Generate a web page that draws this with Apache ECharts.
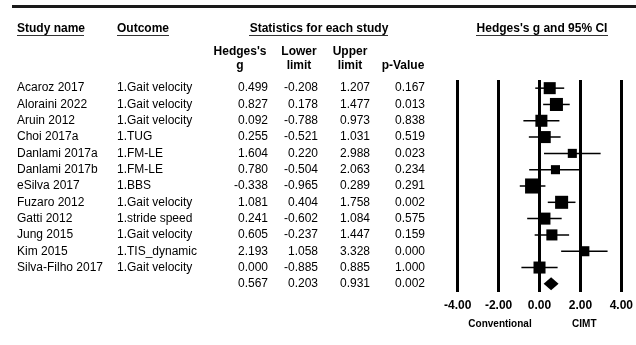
<!DOCTYPE html>
<html>
<head>
<meta charset="utf-8">
<script src="https://cdn.jsdelivr.net/npm/echarts@6/dist/echarts.min.js"></script>
<style>html,body{margin:0;padding:0;background:#fff;}#c{width:636px;height:345px;}</style>
</head>
<body>
<div id="c"></div>
<script>
const studies = ['Acaroz 2017','Aloraini 2022','Aruin 2012','Choi 2017a','Danlami 2017a','Danlami 2017b','eSilva 2017','Fuzaro 2012','Gatti 2012','Jung 2015','Kim 2015','Silva-Filho 2017'];
const outcomes = ['1.Gait velocity','1.Gait velocity','1.Gait velocity','1.TUG','1.FM-LE','1.FM-LE','1.BBS','1.Gait velocity','1.stride speed','1.Gait velocity','1.TIS_dynamic','1.Gait velocity'];
const hedgesG = [0.499,0.827,0.092,0.255,1.604,0.780,-0.338,1.081,0.241,0.605,2.193,0.000];
const lowerLimit = [-0.208,0.178,-0.788,-0.521,0.220,-0.504,-0.965,0.404,-0.602,-0.237,1.058,-0.885];
const upperLimit = [1.207,1.477,0.973,1.031,2.988,2.063,0.289,1.758,1.084,1.447,3.328,0.885];
const pValues = [0.167,0.013,0.838,0.519,0.023,0.234,0.291,0.002,0.575,0.159,0.000,1.000];
const weights = [8.6,10.1,8.6,8.6,4.9,4.9,13.5,10.1,8.6,7.3,6.0,8.6];
const summaryStats = [0.567,0.203,0.931,0.002]; // g, lower, upper, p
const xTicks = [-4,-2,0,2,4];
const directionLabels = ['Conventional','CIMT'];

const FONT = '"Liberation Sans", Arial, sans-serif';
const nRows = studies.length + 1;
const rowIdx = Array.from({length: nRows}, (_, i) => String(i));
const colStudy = studies.concat(['']);
const colOutcome = outcomes.concat(['']);
const colG = hedgesG.concat([summaryStats[0]]).map(v => v.toFixed(3));
const colLow = lowerLimit.concat([summaryStats[1]]).map(v => v.toFixed(3));
const colUp = upperLimit.concat([summaryStats[2]]).map(v => v.toFixed(3));
const colP = pValues.concat([summaryStats[3]]).map(v => v.toFixed(3));

const gridLeft = 457.7;
function colAxis(texts, x, align) {
  return {
    type: 'category', gridIndex: 0, position: 'left', inverse: true,
    data: rowIdx, offset: gridLeft - x,
    axisLine: {show: false}, axisTick: {show: false}, splitLine: {show: false},
    axisLabel: {
      interval: 0, margin: 0, align: align, color: '#000',
      fontFamily: FONT, fontSize: 12,
      formatter: (v, i) => texts[i]
    }
  };
}

const chart = echarts.init(document.getElementById('c'), null, {renderer: 'canvas'});

const hdr = (text, x, y, align, size) => ({
  type: 'text', left: undefined, x: x, y: y,
  style: {text: text, fill: '#000', font: 'bold ' + (size || 12) + 'px ' + FONT,
          textAlign: align, textVerticalAlign: 'middle'}
});
const uline = (x1, x2, y) => ({
  type: 'line', shape: {x1: x1, y1: y, x2: x2, y2: y},
  style: {stroke: '#333', lineWidth: 1}
});

chart.setOption({
  animation: false,
  grid: {left: gridLeft, top: 80, width: 168.3, height: 212, containLabel: false},
  xAxis: {
    type: 'value', min: -4, max: 4, interval: 2,
    axisLine: {show: false}, axisTick: {show: false},
    splitLine: {show: true, lineStyle: {color: '#000', width: 3}},
    axisLabel: {
      color: '#000', fontFamily: FONT, fontSize: 12, fontWeight: 'bold', margin: 8,
      customValues: xTicks,
      formatter: v => v.toFixed(2)
    }
  },
  yAxis: [
    {type: 'category', gridIndex: 0, position: 'left', inverse: true, data: rowIdx, show: false},
    colAxis(colStudy, 17, 'left'),
    colAxis(colOutcome, 117, 'left'),
    colAxis(colG, 268, 'right'),
    colAxis(colLow, 318, 'right'),
    colAxis(colUp, 370, 'right'),
    colAxis(colP, 425, 'right')
  ],
  series: [
    {
      type: 'custom', xAxisIndex: 0, yAxisIndex: 0,
      data: studies.map((s, i) => [lowerLimit[i], upperLimit[i], i]),
      renderItem: (params, api) => {
        const p1 = api.coord([api.value(0), api.value(2)]);
        const p2 = api.coord([api.value(1), api.value(2)]);
        return {type: 'line', shape: {x1: p1[0], y1: p1[1], x2: p2[0], y2: p2[1]},
                style: {stroke: '#000', lineWidth: 1.5}};
      },
      z: 3
    },
    {
      type: 'scatter', xAxisIndex: 0, yAxisIndex: 0,
      symbol: 'rect',
      data: studies.map((s, i) => [hedgesG[i], i, weights[i]]),
      symbolSize: v => Math.sqrt(v[2]) * 4.1,
      itemStyle: {color: '#000', opacity: 1},
      z: 4
    },
    {
      type: 'custom', xAxisIndex: 0, yAxisIndex: 0,
      data: [[summaryStats[1], summaryStats[0], summaryStats[2], studies.length]],
      renderItem: (params, api) => {
        const row = api.value(3);
        const l = api.coord([api.value(0), row]);
        const c = api.coord([api.value(1), row]);
        const r = api.coord([api.value(2), row]);
        const h = 6.5;
        return {type: 'polygon',
                shape: {points: [[l[0], l[1]], [c[0], c[1] - h], [r[0], r[1]], [c[0], c[1] + h]]},
                style: {fill: '#000'}};
      },
      z: 4
    }
  ],
  graphic: [
    {type: 'line', shape: {x1: 12, y1: 6.5, x2: 636, y2: 6.5}, style: {stroke: '#1a1a1a', lineWidth: 3}},
    hdr('Study name', 17, 29, 'left'),
    hdr('Outcome', 117, 29, 'left'),
    hdr('Statistics for each study', 319, 29, 'center'),
    hdr('Hedges\'s g and 95% CI', 542, 29, 'center'),
    uline(17, 84, 35.5), uline(117, 169, 35.5), uline(249, 388, 35.5), uline(476, 608, 35.5),
    hdr('Hedges\'s', 240, 52, 'center'), hdr('g', 240, 66, 'center'),
    hdr('Lower', 299, 52, 'center'), hdr('limit', 299, 66, 'center'),
    hdr('Upper', 350, 52, 'center'), hdr('limit', 350, 66, 'center'),
    hdr('p-Value', 403, 66, 'center'),
    hdr(directionLabels[0], 500, 324, 'center', 10),
    hdr(directionLabels[1], 584.3, 324, 'center', 10)
  ]
});
</script>
</body>
</html>
